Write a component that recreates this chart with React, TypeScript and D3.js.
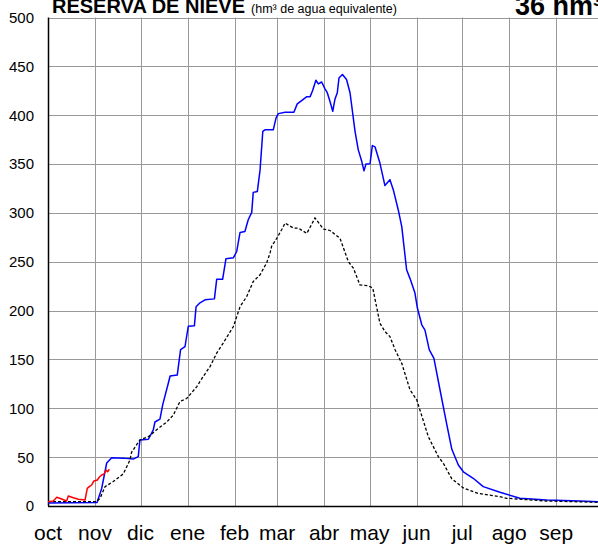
import React from "react";
import * as d3 from "d3";

// Day-of-hydrological-year (0 = 1 Oct) and snow reserve (hm³)
const blueSeries: [number, number][] = [
  [0, 3], [32.3, 3.5], [35.4, 18], [38.7, 44], [42, 49.5], [49.7, 49], [56.2, 48], [59.5, 50.5],
  [60.6, 67.6], [66.2, 68.3], [69.4, 78], [70.5, 86], [73.8, 89], [75.6, 103.5], [79.3, 125.7],
  [80.5, 133], [85.2, 134], [87.4, 160], [90.3, 163], [92.5, 184], [96.5, 184.4], [97.6, 204],
  [100.2, 208], [103.5, 211], [109.7, 212], [111.2, 232], [115.1, 232], [117.3, 253], [122.2, 254],
  [124.4, 260.5], [126.6, 280], [129.8, 281], [132, 293], [134.3, 300.5], [135.3, 321], [138, 322],
  [139.8, 344], [141.6, 383.5], [143, 385], [148.5, 385], [150.3, 397], [151.8, 401.6], [156.3, 403],
  [162.1, 403], [164.3, 411.6], [167.2, 415], [170.6, 419], [172.8, 419], [174.4, 425], [176.6, 435.8],
  [178.2, 432], [180.4, 434], [182.6, 427], [184.1, 423], [185.9, 414], [187.7, 404], [189.1, 416],
  [190.7, 423], [191.8, 438], [194.1, 441.6], [196.8, 436.5], [199.1, 423], [202.4, 383.5],
  [204.5, 364.8], [206.8, 352.8], [208.3, 343], [209.6, 350], [212.3, 350.4], [213.8, 368.9],
  [215.6, 367.5], [218.8, 351], [222.1, 328], [225.4, 334], [227.6, 323.8], [230.9, 303], [233.2, 286],
  [236.4, 241.8], [238.6, 233], [241.9, 218], [243.5, 202.6], [246.4, 185.5], [248.5, 180],
  [251.3, 160], [254.4, 151], [258.4, 119], [262.8, 84], [266.2, 58], [270.5, 42], [273.8, 35],
  [280.3, 28.4], [286.9, 19.8], [297.9, 14], [311.1, 7.9], [328.7, 6.1], [350.7, 5.1], [365, 4.3],
];

const averageSeries: [number, number][] = [
  [0, 4.4], [32.1, 4.4], [34.3, 7.9], [37.6, 19.8], [43, 25], [49.7, 33], [54, 47], [55.1, 55],
  [60.6, 67.6], [66.2, 71], [71.6, 78], [78.3, 86], [82.6, 93], [87, 107], [91.4, 110], [98, 122],
  [102.3, 132.5], [106.8, 142.7], [111.2, 156.5], [115.5, 166.7], [122.2, 183.7], [126.6, 204],
  [131, 214.4], [135.3, 229.8], [139.8, 236.7], [144.1, 248.7], [146.4, 259], [147.4, 265.7],
  [150.8, 274], [154.1, 283], [156.3, 289.6], [161.7, 284.5], [165, 284.5], [170.6, 279], [176, 294.8],
  [181.5, 283.5], [185.9, 282], [192.5, 274], [198, 250], [201.3, 243.5], [205.6, 226.4], [211.1, 225.4],
  [214.1, 223], [218.8, 187], [222.1, 178.6], [225.4, 173.5], [228.8, 160], [233.2, 146], [238.6, 119],
  [243.1, 108.6], [250.7, 71], [257.3, 50.5], [260.6, 43.7], [266.1, 28], [273.8, 18.5], [283.4, 13],
  [297.9, 9.5], [302.4, 7.9], [328.7, 5.1], [365, 3.7],
];

const currentSeries: [number, number][] = [
  [0, 4.4], [3.5, 5.1], [5.8, 8.9], [9, 7.2], [12.3, 5.1], [13.4, 10.2], [16.7, 8.5], [20, 6.9],
  [24.4, 6.1], [25.9, 18], [27.2, 19.8], [28.8, 21.5], [30.3, 25.6], [32.5, 26.6], [33.8, 29.4],
  [35.4, 31.8], [37, 32.8], [38.2, 36.9], [39.3, 35], [40.4, 37.6],
];

const monthLabels = ["oct", "nov", "dic", "ene", "feb", "mar", "abr", "may", "jun", "jul", "ago", "sep"];
const monthStartDays = [0, 31, 61, 92, 123, 151, 182, 212, 243, 273, 304, 335];
const yTicks = [0, 50, 100, 150, 200, 250, 300, 350, 400, 450, 500];

const titleText = "RESERVA DE NIEVE";
const unitText = "(hm³ de agua equivalente)";
const currentText = "36 hm³";

const W = 598;
const H = 544;
const FONT = "'Liberation Sans', Arial, Helvetica, sans-serif";

export default function App() {
  const x = d3.scaleLinear().domain([0, 365]).range([48, 601.7]);
  const y = d3.scaleLinear().domain([0, 500]).range([506, 17.5]);
  const line = d3
    .line<[number, number]>()
    .x((d) => x(d[0]))
    .y((d) => y(d[1]));
  const crisp = (v: number) => Math.round(v) + 0.5;

  return (
    <svg
      width={W}
      height={H}
      style={{ position: "absolute", left: 0, top: 0, background: "#fff" }}
      fontFamily={FONT}
    >
      <rect x={0} y={0} width={W} height={H} fill="#fff" />
      {/* horizontal grid */}
      {yTicks.filter((t) => t > 0).map((t) => (
        <line key={"h" + t} x1={48} x2={W} y1={crisp(y(t))} y2={crisp(y(t))} stroke="#999" strokeWidth={1} />
      ))}
      {/* vertical grid */}
      {monthStartDays.filter((d) => d > 0).map((d) => (
        <line key={"v" + d} x1={crisp(x(d))} x2={crisp(x(d))} y1={y(500)} y2={y(0)} stroke="#999" strokeWidth={1} />
      ))}
      {/* axes */}
      <line x1={crisp(x(0))} x2={crisp(x(0))} y1={y(500)} y2={y(0)} stroke="#000" strokeWidth={1.5} />
      <line x1={48} x2={W} y1={crisp(y(0))} y2={crisp(y(0))} stroke="#000" strokeWidth={1.5} />

      {/* y tick labels */}
      {yTicks.map((t) => (
        <text key={"yl" + t} x={34} y={y(t)} dy="0.36em" textAnchor="end" fontSize={15} fill="#000">
          {t}
        </text>
      ))}
      {/* x labels */}
      {monthLabels.map((m, i) => (
        <text key={m} x={x(monthStartDays[i])} y={539.5} textAnchor="middle" fontSize={21} fill="#000">
          {m}
        </text>
      ))}

      {/* series */}
      <path d={line(blueSeries) || ""} fill="none" stroke="#0000ff" strokeWidth={1.5} strokeLinejoin="round" />
      <path d={line(averageSeries) || ""} fill="none" stroke="#000" strokeWidth={1.3} strokeDasharray="3,2" />
      <path d={line(currentSeries) || ""} fill="none" stroke="#ff0000" strokeWidth={1.5} strokeLinejoin="round" />

      {/* titles */}
      <text x={52} y={13} fontSize={20} fontWeight="bold" fill="#000">
        {titleText}
        <tspan fontSize={12.5} fontWeight="normal" dx={6}>{unitText}</tspan>
      </text>
      <text x={515} y={15} fontSize={27} fontWeight="bold" fill="#000">
        {currentText}
      </text>
    </svg>
  );
}
